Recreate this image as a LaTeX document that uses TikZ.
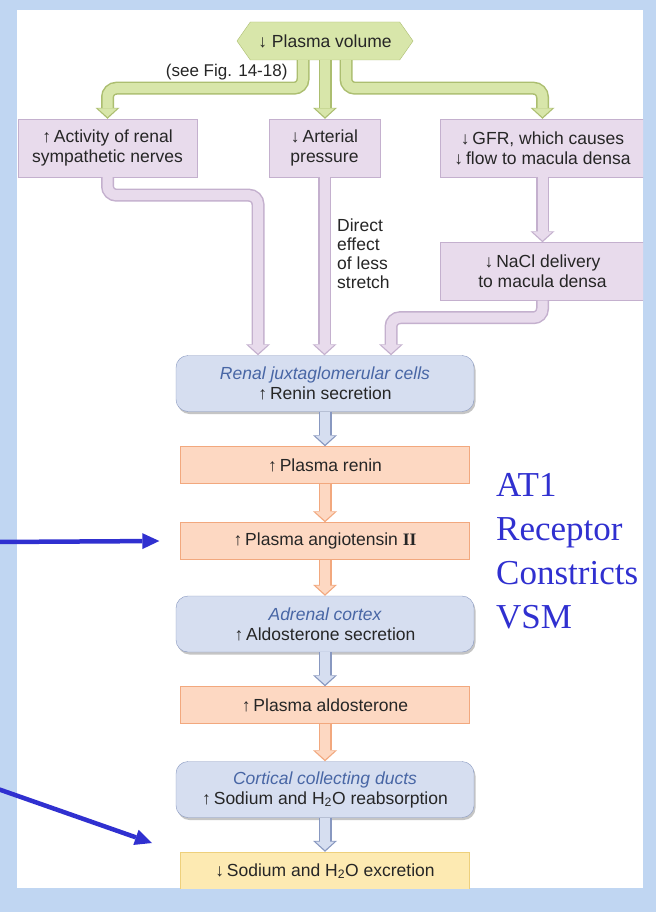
\documentclass[tikz,border=0pt]{standalone}
\usepackage{fontspec}
\setmainfont{Liberation Sans}
\newfontfamily\timesface{Liberation Serif}
\usetikzlibrary{arrows.meta, positioning, shapes.symbols, shadows}

\definecolor{bgblue}{RGB}{192,214,242}
\definecolor{inkgray}{RGB}{38,38,38}
\definecolor{labelblue}{RGB}{72,102,165}
\definecolor{slideblue}{RGB}{48,48,208}
\definecolor{grnline}{RGB}{172,190,112}
\definecolor{grnfill}{RGB}{216,230,170}
\definecolor{lilline}{RGB}{196,176,206}
\definecolor{lilfill}{RGB}{232,219,236}
\definecolor{bluline}{RGB}{136,152,192}
\definecolor{blufill}{RGB}{214,222,240}
\definecolor{orgline}{RGB}{242,168,126}
\definecolor{orgfill}{RGB}{253,216,194}
\definecolor{yelline}{RGB}{238,208,124}
\definecolor{yelfill}{RGB}{253,234,178}

\newcommand{\upar}{↑\,}
\newcommand{\dnar}{↓\,}
\newcommand{\cellname}[1]{{\itshape\color{labelblue}#1}}

\tikzset{
    boxtext/.style={font=\fontsize{17.5}{20}\selectfont, text=inkgray, align=center},
    % Stimulus boxes
    hexbox/.style={signal, signal to=west and east, signal pointer angle=110,
                draw=grnline, fill=grnfill, boxtext, minimum height=38pt, minimum width=176pt},
    sbox/.style={rectangle, boxtext, draw=lilline, fill=lilfill, minimum height=58pt},
    % Cells and plasma levels
    cbox/.style={rectangle, boxtext, rounded corners=12pt, draw=bluline, fill=blufill,
                minimum width=298pt, minimum height=56pt,
                drop shadow={shadow xshift=1.5pt, shadow yshift=-2.5pt, fill=black!45, opacity=0.5}},
    pbox/.style={rectangle, boxtext, draw=orgline, fill=orgfill, minimum width=289pt, minimum height=37pt},
    ebox/.style={rectangle, boxtext, draw=yelline, fill=yelfill, minimum width=289pt, minimum height=38pt},
    % Fat two-tone arrows
    fat/.style 2 args={line width=10pt, draw=#2, rounded corners=9pt, shorten >=1.8pt,
                -{Triangle[length=8.5pt, width=19pt, line width=0pt]},
                preaction={draw=#1, line width=13pt, shorten >=0pt,
                -{Triangle[length=11pt, width=24pt, line width=0pt]}}},
    garrow/.style={fat={grnline}{grnfill}},
    parrow/.style={fat={lilline}{lilfill}},
    barrow/.style={fat={bluline}{blufill}},
    oarrow/.style={fat={orgline}{orgfill}},
    % Slide annotations
    slidearrow/.style={draw=slideblue, line width=4.5pt, -{Triangle[length=17pt, width=16pt, line width=0pt]}},
}

\begin{document}
\begin{tikzpicture}[x=1pt, y=-1pt]
\useasboundingbox (0,0) rectangle (656,912);
\fill[bgblue] (0,0) rectangle (656,912);
\fill[white] (17,10) rectangle (643,888);

\begin{scope}
\clip (17,10) rectangle (643,888);

\node[hexbox] (vol) at (325,41) {↓ Plasma volume};
\node[font=\fontsize{17}{19}\selectfont, text=inkgray, anchor=east] (fig) at (291,72) {(see Fig. 14-18)};

\node[sbox, minimum width=179pt] (act)  at (107.5,148) {\upar Activity of renal\\sympathetic nerves};
\node[sbox, minimum width=111pt] (art)  at (324.5,148) {\dnar Arterial\\pressure};
\node[sbox, minimum width=205pt] (gfr)  at (542.5,148) {\dnar GFR, which causes\\\dnar flow to macula densa};
\node[sbox, minimum width=205pt] (nacl) at (542.5,271.5) {\dnar NaCl delivery\\to macula densa};
\node[boxtext, align=left, anchor=north west, inner sep=0pt,
      font=\fontsize{17.5}{19}\selectfont] (dir) at (337,219) {Direct\\effect\\of less\\stretch};

\node[cbox] (renal) at (325,383.5) {\cellname{Renal juxtaglomerular cells}\\\upar Renin secretion};
\node[pbox] (renin) at (325,465)   {\upar Plasma renin};
\node[pbox] (ang)   at (325,541)   {\upar Plasma angiotensin {\timesface\bfseries II}};
\node[cbox] (adr)   at (325,624)   {\cellname{Adrenal cortex}\\\upar Aldosterone secretion};
\node[pbox] (ald)   at (325,705)   {\upar Plasma aldosterone};
\node[cbox] (ccd)   at (325,789.5) {\cellname{Cortical collecting ducts}\\\upar Sodium and H\textsubscript{2}O reabsorption};
\node[ebox] (exc)   at (325,871)   {\dnar Sodium and H\textsubscript{2}O excretion};

\draw[garrow] ([xshift=-22pt]vol.south) -- ++(0,28) -| (act.north);
\draw[garrow] (vol.south) -- (vol.south |- art.north);
\draw[garrow] ([xshift=21pt]vol.south) -- ++(0,28) -| (gfr.north);

\draw[parrow] (act.south) -- ++(0,18) -| ([xshift=-67pt]renal.north);
\draw[parrow] (art.south) -- (art.south |- renal.north);
\draw[parrow] (gfr.south) -- (nacl.north);
\draw[parrow] (nacl.south) -- ++(0,17) -| ([xshift=66pt]renal.north);

\draw[barrow] (renal.south) -- (renin.north);
\draw[oarrow] (renin.south) -- (ang.north);
\draw[oarrow] (ang.south) -- (adr.north);
\draw[barrow] (adr.south) -- (ald.north);
\draw[oarrow] (ald.south) -- (ccd.north);
\draw[barrow] (ccd.south) -- (exc.north);
\end{scope}

\node[font=\timesface\fontsize{35}{44}\selectfont, text=slideblue, align=left,
      anchor=north west, inner sep=0pt] (at1) at (496,473) {AT1\\Receptor\\Constricts\\VSM};

\coordinate (angsrc) at (-2,542);
\coordinate (excsrc) at (-2,789);
\coordinate (exctip) at (152,843);
\draw[slidearrow] (angsrc) -- ([xshift=-21pt]ang.west);
\draw[slidearrow] (excsrc) -- (exctip);
\end{tikzpicture}
\end{document}
